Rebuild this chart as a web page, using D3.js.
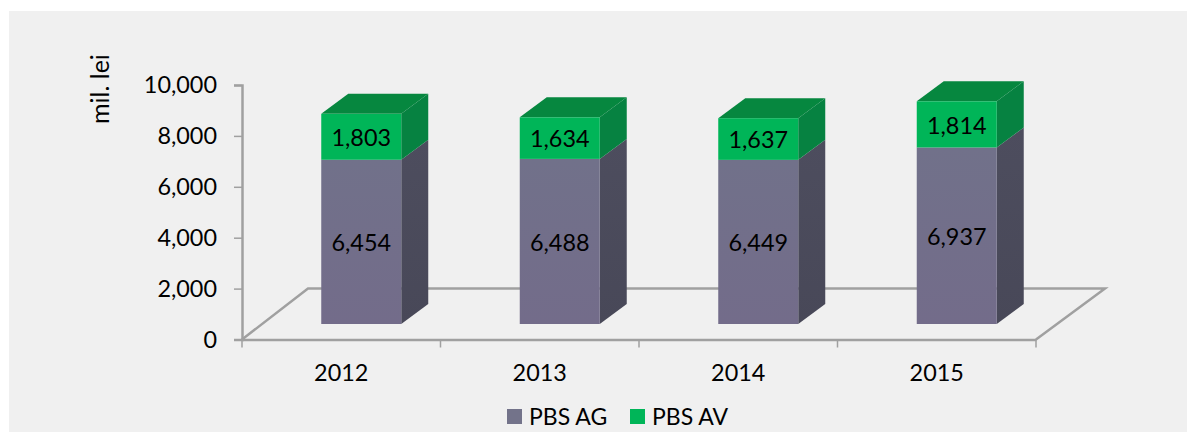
<!DOCTYPE html>
<html>
<head>
<meta charset="utf-8">
<script src="https://d3js.org/d3.v7.min.js"></script>
<style>
    html, body { margin: 0; padding: 0; background: #fff; }
    text { font-family: Lato, "Open Sans", sans-serif; fill: #000; }
</style>
</head>
<body>
<div id="chart"></div>
<script>
const years = ['2012', '2013', '2014', '2015'];
const pbsAg = [6454, 6488, 6449, 6937];
const pbsAv = [1803, 1634, 1637, 1814];
const seriesNames = ['PBS AG', 'PBS AV'];
const yTicks = [0, 2000, 4000, 6000, 8000, 10000];

const width = 1187;
const height = 432;
const axisColor = '#a0a0a0';
const fontSize = 23.4;

// 3D look: how far the floor and the bars go back
const floorDepth = { x: 66, y: 51 };
const barDepth = { x: 27, y: 20 };
const barLift = 15.5;
const barWidth = 80;
const barShift = 20;

const svg = d3.select('#chart')
    .append('svg')
    .attr('width', width)
    .attr('height', height)
    .style('display', 'block');

// Grey panel behind the chart
svg.append('rect')
    .attr('x', 9)
    .attr('y', 11)
    .attr('width', width - 9)
    .attr('height', height - 11)
    .attr('fill', '#f0f0f0');

const defs = svg.append('defs');
const addGradient = (id, top, bottom) => {
    const g = defs.append('linearGradient')
        .attr('id', id)
        .attr('x1', 0).attr('y1', 0)
        .attr('x2', 0).attr('y2', 1);
    g.append('stop').attr('offset', '0%').attr('stop-color', top);
    g.append('stop').attr('offset', '100%').attr('stop-color', bottom);
};
addGradient('agFront', '#71718a', '#736c8a');
addGradient('agSide', '#4d4d5e', '#484858');

const xScale = d3.scaleBand()
    .domain(years)
    .range([242, 1036]);

const yScale = d3.scaleLinear()
    .domain([0, 10000])
    .range([339.5, 85]);

const y0 = yScale(0);
const y2000 = yScale(2000);

// Floor
const floor = svg.append('g')
    .attr('fill', 'none')
    .attr('stroke', axisColor)
    .attr('stroke-width', 2.5);

floor.append('path')
    .attr('d', d3.line()([
        [xScale.range()[0], y0],
        [xScale.range()[0] + floorDepth.x, y2000],
        [xScale.range()[1] + floorDepth.x + 3, y2000],
        [xScale.range()[1], y0]
    ]));

// Axes
const yAxis = svg.append('g')
    .attr('transform', `translate(${xScale.range()[0]},0)`)
    .call(d3.axisLeft(yScale)
        .tickValues(yTicks)
        .tickSize(8)
        .tickPadding(17)
        .tickFormat(d3.format(',')));

const xAxis = svg.append('g')
    .attr('transform', `translate(0,${y0})`)
    .call(d3.axisBottom(xScale).tickSize(0).tickPadding(25));

// Ticks between the categories
xAxis.selectAll('.band-tick')
    .data([...years.map(d => xScale(d)), xScale.range()[1]])
    .enter().append('line')
    .attr('class', 'band-tick')
    .attr('x1', d => d)
    .attr('x2', d => d)
    .attr('y1', 0)
    .attr('y2', 8);

[yAxis, xAxis].forEach(axis => {
    axis.selectAll('path, line').attr('stroke', axisColor);
    axis.select('.domain').attr('stroke-width', 2.5);
    axis.selectAll('.tick line, .band-tick').attr('stroke-width', 1.5);
    axis.selectAll('text').style('font-size', fontSize + 'px').attr('fill', '#000');
});

// One stacked block: side, top and front faces
const drawBlock = (g, x, yTop, yBottom, front, side, top) => {
    const w = barWidth;
    g.append('polygon')
        .attr('points', [
            [x + w, yTop], [x + w + barDepth.x, yTop - barDepth.y],
            [x + w + barDepth.x, yBottom - barDepth.y], [x + w, yBottom]
        ].join(' '))
        .attr('fill', side);
    if (top) {
        g.append('polygon')
            .attr('points', [
                [x, yTop], [x + barDepth.x, yTop - barDepth.y],
                [x + w + barDepth.x, yTop - barDepth.y], [x + w, yTop]
            ].join(' '))
            .attr('fill', top);
    }
    g.append('rect')
        .attr('x', x)
        .attr('y', yTop)
        .attr('width', w)
        .attr('height', yBottom - yTop)
        .attr('fill', front);
};

const barY = v => yScale(v) - barLift;

const bars = svg.selectAll('.bar')
    .data(years)
    .enter().append('g')
    .attr('class', 'bar');

bars.each(function (d, i) {
    const g = d3.select(this);
    const x = xScale(d) + xScale.bandwidth() / 2 + barShift - barWidth / 2;
    const split = barY(pbsAg[i]);
    const total = barY(pbsAg[i] + pbsAv[i]);

    drawBlock(g, x, split, barY(0), 'url(#agFront)', 'url(#agSide)', null);
    drawBlock(g, x, total, split, '#00b558', '#068241', '#06873f');

    g.append('text')
        .attr('x', x + barWidth / 2)
        .attr('y', (split + barY(0)) / 2 + 1)
        .attr('dy', '0.35em')
        .attr('text-anchor', 'middle')
        .style('font-size', fontSize + 'px')
        .text(d3.format(',')(pbsAg[i]));

    g.append('text')
        .attr('x', x + barWidth / 2)
        .attr('y', (split + total) / 2 + 1)
        .attr('dy', '0.35em')
        .attr('text-anchor', 'middle')
        .style('font-size', fontSize + 'px')
        .text(d3.format(',')(pbsAv[i]));
});

// Axis title
svg.append('text')
    .attr('transform', 'translate(109,124) rotate(-90)')
    .style('font-size', '25px')
    .text('mil. lei');

// Legend
const legendColor = d3.scaleOrdinal()
    .domain(seriesNames)
    .range(['#73738a', '#00b558']);
const legendX = d3.scaleOrdinal()
    .domain(seriesNames)
    .range([507, 630]);

const legend = svg.selectAll('.legend')
    .data(seriesNames)
    .enter().append('g')
    .attr('class', 'legend')
    .attr('transform', d => `translate(${legendX(d)},409)`);

legend.append('rect')
    .attr('width', 15)
    .attr('height', 15)
    .attr('fill', d => legendColor(d));

legend.append('text')
    .attr('x', 22)
    .attr('y', 16)
    .style('font-size', '23px')
    .text(d => d);
</script>
</body>
</html>
